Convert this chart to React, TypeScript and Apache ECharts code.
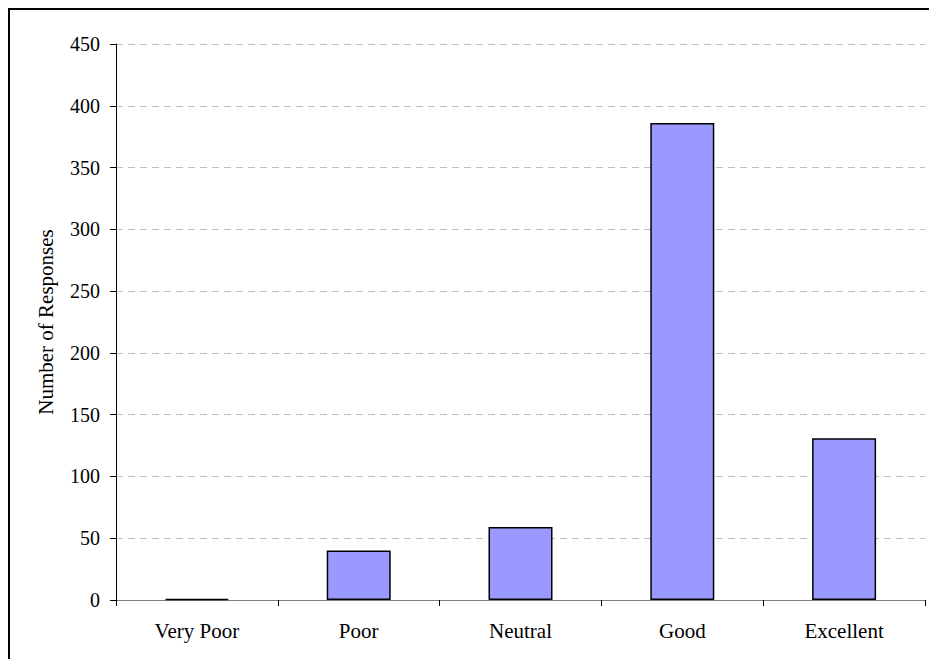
import React, { useEffect, useRef } from "react";
import * as echarts from "echarts";

const categories = ["Very Poor", "Poor", "Neutral", "Good", "Excellent"];
const responses = [1, 40, 59, 386, 131];
const yTicks = { min: 0, max: 450, interval: 50 };
const yAxisTitle = "Number of Responses";

const FONT = "'Liberation Serif', 'Times New Roman', serif";

export default function App() {
  const ref = useRef<HTMLDivElement>(null);
  useEffect(() => {
    if (!ref.current) return;
    const chart = echarts.init(ref.current, null, { renderer: "svg" });
    chart.setOption({
      animation: false,
      backgroundColor: "#ffffff",
      graphic: [
        {
          type: "rect",
          shape: { x: 9, y: 9, width: 1000, height: 1000 },
          style: { fill: "none", stroke: "#000", lineWidth: 2 },
          z: 100,
        },
      ],
      grid: { left: 116, right: 4, top: 44, bottom: 59, containLabel: false },
      xAxis: {
        type: "category",
        data: categories,
        axisLine: { lineStyle: { color: "#808080", width: 1 } },
        axisTick: { show: true, length: 6, inside: false, lineStyle: { color: "#000" }, alignWithLabel: false },
        axisLabel: { color: "#000", fontFamily: FONT, fontSize: 21, margin: 20 },
        splitLine: { show: false },
      },
      yAxis: {
        type: "value",
        min: yTicks.min,
        max: yTicks.max,
        interval: yTicks.interval,
        name: yAxisTitle,
        nameLocation: "middle",
        nameGap: 60,
        nameRotate: 90,
        nameTextStyle: { color: "#000", fontFamily: FONT, fontSize: 21 },
        axisLine: { show: true, lineStyle: { color: "#000", width: 1 } },
        axisTick: { show: true, length: 6, lineStyle: { color: "#000" } },
        axisLabel: { color: "#000", fontFamily: FONT, fontSize: 20, margin: 16 },
        splitLine: { show: true, lineStyle: { color: "#c0c0c0", type: [7, 5], width: 1 } },
      },
      series: [
        {
          type: "bar",
          data: responses,
          barWidth: 64,
          itemStyle: { color: "#9999ff", borderColor: "#000", borderWidth: 1.5 },
        },
      ],
    });
    return () => chart.dispose();
  }, []);
  return <div ref={ref} style={{ width: 929, height: 659, position: "absolute", left: 0, top: 0 }} />;
}
